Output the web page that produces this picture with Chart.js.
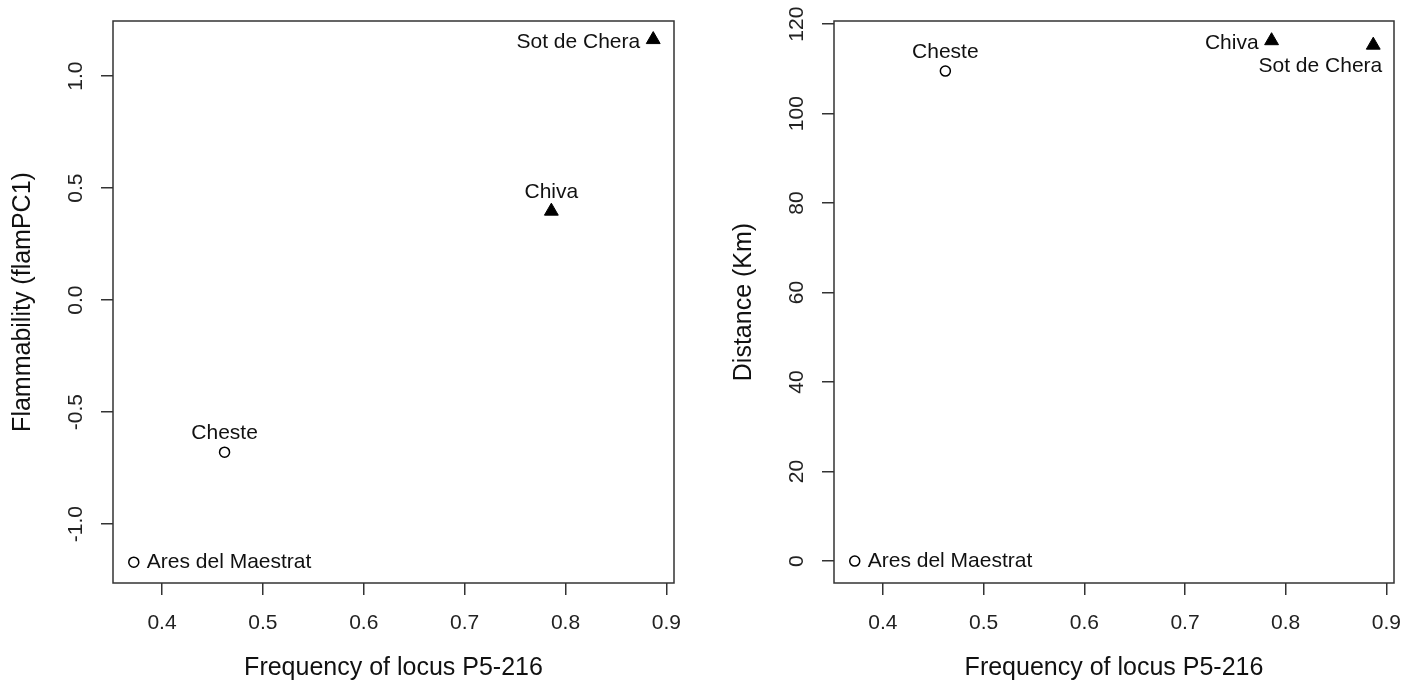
<!DOCTYPE html>
<html>
<head>
<meta charset="utf-8">
<script src="https://cdn.jsdelivr.net/npm/chart.js@4.4.1/dist/chart.umd.min.js"></script>
<style>
    html, body { margin: 0; padding: 0; background: #fff; }
    #wrap { position: relative; width: 1420px; height: 690px; }
    .panel { position: absolute; top: 0; width: 710px; height: 690px; }
</style>
</head>
<body>
<div id="wrap">
    <div class="panel" style="left:0"><canvas id="flamChart" width="710" height="690"></canvas></div>
    <div class="panel" style="left:710px"><canvas id="distChart" width="710" height="690"></canvas></div>
</div>
<script>

// site data
const sites = ['Ares del Maestrat', 'Cheste', 'Chiva', 'Sot de Chera'];
const freqP5 = [0.372, 0.462, 0.786, 0.887];
const flamPC1 = [-1.17, -0.679, 0.397, 1.163];
const distKm = [0, 109.5, 116.3, 115.3];
const siteShape = ['circle', 'circle', 'triangle', 'triangle'];

// axes
const xTicks = [0.4, 0.5, 0.6, 0.7, 0.8, 0.9];
const flamTicks = [-1.0, -0.5, 0.0, 0.5, 1.0];
const distTicks = [0, 20, 40, 60, 80, 100, 120];
const xLim = [0.3514, 0.9076];
const flamLim = [-1.263, 1.246];
const distLim = [-4.9, 120.7];

// where each site name sits relative to its marker
const flamLabelPos = ['right', 'above', 'above', 'left'];
const distLabelPos = ['right', 'above', 'left', 'belowLeft'];

const FONT = '"Liberation Sans", Arial, sans-serif';

function placeLabel(ctx, text, x, y, pos) {
    ctx.textBaseline = 'middle';
    if (pos === 'left') {
        ctx.textAlign = 'right';
        ctx.fillText(text, x - 13, y + 3);
    } else if (pos === 'right') {
        ctx.textAlign = 'left';
        ctx.fillText(text, x + 13, y);
    } else if (pos === 'above') {
        ctx.textAlign = 'center';
        ctx.fillText(text, x, y - 19);
    } else if (pos === 'belowLeft') {
        ctx.textAlign = 'right';
        ctx.fillText(text, x + 9, y + 21);
    }
}

function makePlugin(xTitle, yTitle, yTickList, yFmt, labelPos) {
    return {
        id: 'rStyle',
        beforeDatasetsDraw(chart) {
            const ctx = chart.ctx;
            const a = chart.chartArea;
            ctx.save();
            ctx.strokeStyle = '#333';
            ctx.lineWidth = 1.5;
            ctx.strokeRect(a.left, a.top, a.right - a.left, a.bottom - a.top);
            ctx.restore();
        },
        afterDraw(chart) {
            const ctx = chart.ctx;
            const a = chart.chartArea;
            const xs = chart.scales.x, ys = chart.scales.y;
            ctx.save();
            ctx.fillStyle = '#222';
            ctx.font = '21px ' + FONT;
            ctx.textAlign = 'center';
            ctx.textBaseline = 'middle';
            xTicks.forEach(v => {
                ctx.fillText(v.toFixed(1), xs.getPixelForValue(v), a.bottom + 40);
            });
            yTickList.forEach(v => {
                ctx.save();
                ctx.translate(a.left - 37, ys.getPixelForValue(v));
                ctx.rotate(-Math.PI / 2);
                ctx.fillText(yFmt(v), 0, 0);
                ctx.restore();
            });

            ctx.fillStyle = '#111';
            ctx.font = '25px ' + FONT;
            ctx.fillText(xTitle, (a.left + a.right) / 2, a.bottom + 85);
            ctx.save();
            ctx.translate(a.left - 90, (a.top + a.bottom) / 2);
            ctx.rotate(-Math.PI / 2);
            ctx.fillText(yTitle, 0, 0);
            ctx.restore();

            // site names next to the markers
            ctx.font = '21px ' + FONT;
            chart.data.datasets.forEach((ds, di) => {
                const meta = chart.getDatasetMeta(di);
                ds.data.forEach((d, i) => {
                    const el = meta.data[i];
                    placeLabel(ctx, d.site, el.x, el.y, labelPos[d.idx]);
                });
            });
            ctx.restore();
        }
    };
}

function axisOpts(lim, tickList, fit) {
    return {
        type: 'linear',
        min: lim[0],
        max: lim[1],
        afterBuildTicks: s => { s.ticks = tickList.map(v => ({ value: v })); },
        afterFit: fit,
        ticks: { display: false },
        grid: { drawOnChartArea: false, drawTicks: true, tickLength: 12, color: '#333', lineWidth: 1.5 },
        border: { display: false }
    };
}

function buildDatasets(yValues) {
    const pts = shape => sites
        .map((s, i) => ({ x: freqP5[i], y: yValues[i], site: s, idx: i }))
        .filter(p => siteShape[p.idx] === shape);
    return [
        {
            data: pts('circle'),
            pointStyle: 'circle',
            pointRadius: 5,
            pointBackgroundColor: '#fff',
            pointBorderColor: '#000',
            pointBorderWidth: 1.5
        },
        {
            data: pts('triangle'),
            pointStyle: 'triangle',
            pointRadius: 8,
            pointBackgroundColor: '#000',
            pointBorderColor: '#000',
            pointBorderWidth: 1
        }
    ];
}

function drawPanel(canvasId, yValues, yLim, yTickList, yFmt, yTitle, labelPos, yAxisWidth, rightPad) {
    const ctx = document.getElementById(canvasId).getContext('2d');
    new Chart(ctx, {
        type: 'scatter',
        data: { datasets: buildDatasets(yValues) },
        options: {
            responsive: false,
            animation: false,
            layout: { padding: { top: 21, right: rightPad, left: 0, bottom: 0 } },
            scales: {
                x: axisOpts(xLim, xTicks, s => { s.height = 107; }),
                y: axisOpts(yLim, yTickList, s => { s.width = yAxisWidth; })
            },
            plugins: { legend: { display: false }, tooltip: { enabled: false } }
        },
        plugins: [makePlugin('Frequency of locus P5-216', yTitle, yTickList, yFmt, labelPos)]
    });
}

drawPanel('flamChart', flamPC1, flamLim, flamTicks, v => v.toFixed(1),
    'Flammability (flamPC1)', flamLabelPos, 113, 36);
drawPanel('distChart', distKm, distLim, distTicks, v => String(v),
    'Distance (Km)', distLabelPos, 124, 26);
</script>
</body>
</html>
